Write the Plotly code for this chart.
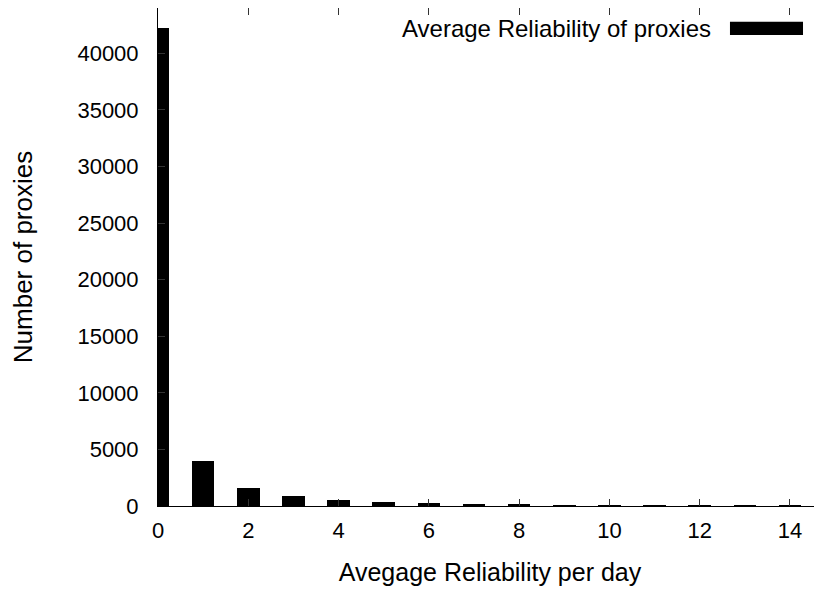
import plotly.graph_objects as go

# Data
reliability_per_day = [0, 1, 2, 3, 4, 5, 6, 7, 8, 9, 10, 11, 12, 13, 14]
num_proxies = [42200, 3980, 1560, 880, 500, 330, 265, 180, 170, 60, 45, 80, 40, 70, 20]
series_name = "Average Reliability of proxies"
x_tick_vals = [0, 2, 4, 6, 8, 10, 12, 14]
y_tick_vals = [0, 5000, 10000, 15000, 20000, 25000, 30000, 35000, 40000]
y_tick_text = [str(v) for v in y_tick_vals]

FONT = "Liberation Sans, Arial, Helvetica, sans-serif"

fig = go.Figure()
fig.add_trace(go.Bar(
    x=reliability_per_day,
    y=num_proxies,
    width=0.5,
    marker=dict(color="black", line=dict(width=0)),
    name=series_name,
    showlegend=False,
))

# Legend key drawn gnuplot-style (text then sample on the right)
fig.add_annotation(
    xref="paper", yref="paper", x=0.8358, y=0.9598,
    xanchor="right", yanchor="middle",
    text=series_name, showarrow=False,
    font=dict(family=FONT, size=24, color="black"),
)
fig.add_shape(
    type="rect", xref="paper", yref="paper",
    x0=0.8614, x1=0.9714, y0=0.9458, y1=0.9725,
    fillcolor="black", line=dict(width=0),
)

# page body has an 8px margin, so the figure is sized to end at the window edge
fig.update_layout(
    width=814, height=584,
    margin=dict(l=150, r=0, t=0, b=86),
    paper_bgcolor="white", plot_bgcolor="white",
    font=dict(family=FONT, size=22, color="black"),
    bargap=0,
)
fig.update_xaxes(
    range=[0, 14.71],
    tickvals=x_tick_vals,
    ticks="inside", ticklen=7, tickwidth=1, tickcolor="#333",
    showline=True, linecolor="black", linewidth=1, mirror="ticks",
    showgrid=False, zeroline=False,
    ticklabelstandoff=5,
    tickfont=dict(size=22),
    title=dict(text="Avegage Reliability per day", font=dict(size=25), standoff=21),
    automargin=False,
)
fig.update_yaxes(
    range=[0, 44000],
    tickvals=y_tick_vals,
    ticktext=y_tick_text,
    ticks="inside", ticklen=7, tickwidth=1, tickcolor="#333",
    showline=True, linecolor="black", linewidth=1, mirror=False,
    showgrid=False, zeroline=False,
    ticklabelstandoff=14,
    tickfont=dict(size=22),
    title=dict(text="Number of proxies", font=dict(size=26), standoff=48),
    automargin=False,
)

fig.write_html("out.html")
